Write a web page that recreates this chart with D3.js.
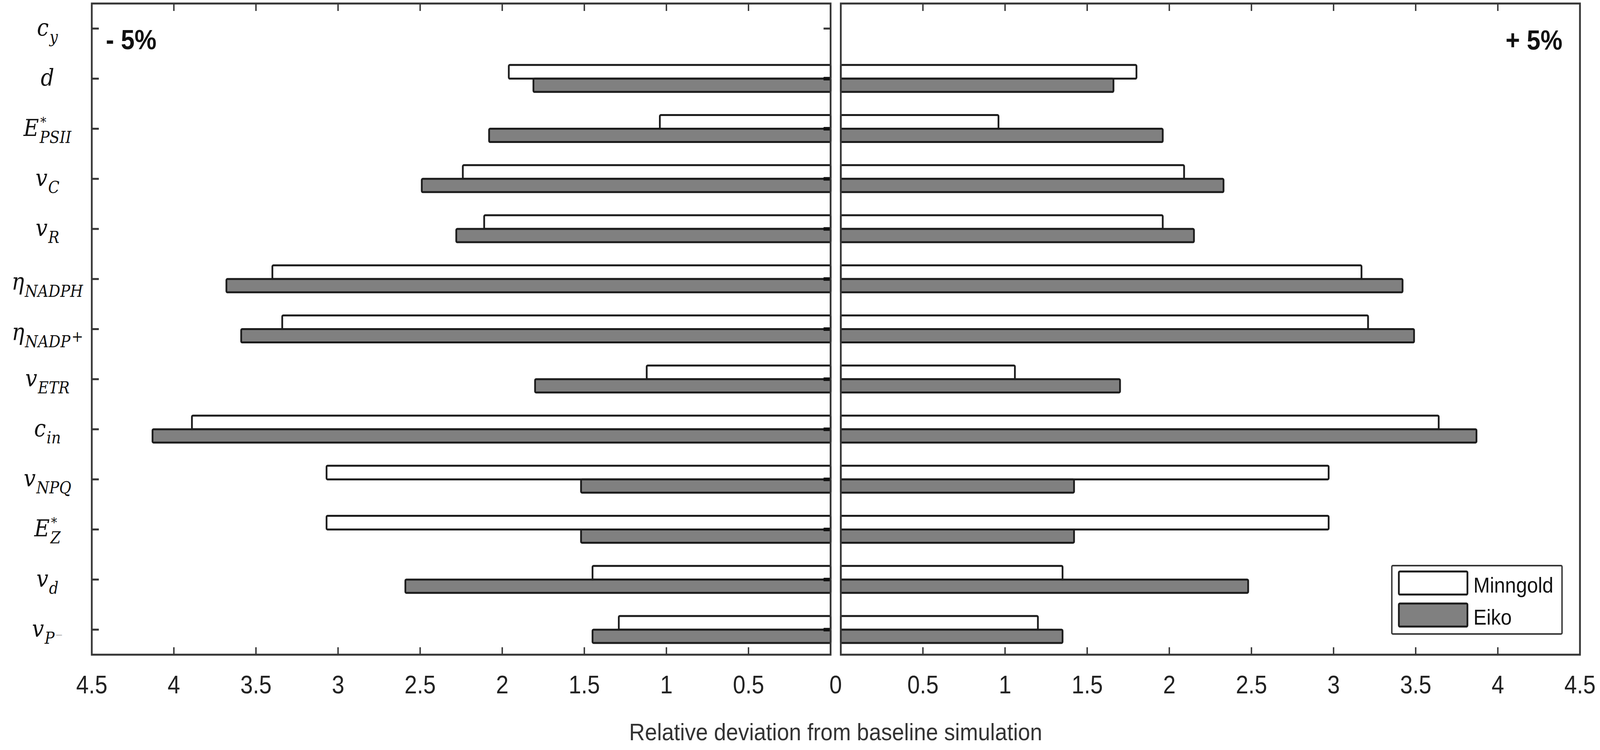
<!DOCTYPE html>
<html>
<head>
<meta charset="utf-8">
<script src="https://cdn.jsdelivr.net/npm/d3@7"></script>
<style>
html,body{margin:0;padding:0;background:#fff;overflow:hidden;width:100%;height:100%;}
svg{display:block;width:100vw;height:100vh;}
</style>
</head>
<body>
<svg id="chart" viewBox="0 0 4550 1920" preserveAspectRatio="none"></svg>
<script>
// ---------------- data ----------------
const categories = ["cy","d","EPSII","vC","vR","etaNADPH","etaNADP","vETR","cin","vNPQ","EZ","vd","vP"];
const labelMain = ["c","d","E","v","v","η","η","v","c","v","E","v","v"];
const labelSub  = ["y","","PSII","C","R","NADPH","NADP","ETR","in","NPQ","Z","d","P"];
const labelSup  = ["","","*","","","","+","","","","*","","−"];

const series = ["Minngold","Eiko"];
// -5% perturbation (left panel)
const minusMinngold = [0, 1.96, 1.04, 2.24, 2.11, 3.40, 3.34, 1.12, 3.89, 3.07, 3.07, 1.45, 1.29];
const minusEiko     = [0, 1.81, 2.08, 2.49, 2.28, 3.68, 3.59, 1.80, 4.13, 1.52, 1.52, 2.59, 1.45];
// +5% perturbation (right panel)
const plusMinngold  = [0, 1.80, 0.96, 2.09, 1.96, 3.17, 3.21, 1.06, 3.64, 2.97, 2.97, 1.35, 1.20];
const plusEiko      = [0, 1.66, 1.96, 2.33, 2.15, 3.42, 3.49, 1.70, 3.87, 1.42, 1.42, 2.48, 1.35];

const xTicks = [0, 0.5, 1, 1.5, 2, 2.5, 3, 3.5, 4, 4.5];
const xTitle = "Relative deviation from baseline simulation";
const panelLabels = ["- 5%", "+ 5%"];

// ---------------- layout ----------------
const svg = d3.select("#chart");
const plotTop = 9, plotBottom = 1676;
const xL = d3.scaleLinear().domain([4.5, 0]).range([261, 2362]);
const xR = d3.scaleLinear().domain([0, 4.5]).range([2391, 4493]);
const y = d3.scaleBand().domain(categories).range([plotTop, plotBottom]).padding(0);
const center = c => y(c) + y.bandwidth() / 2;

const fills = ["#ffffff", "#808080"];
const barStroke = "#1c1c1c";
const axisColor = "#363636";
const hUp = 35, hDown = 34;

function drawBars(g, xs, vals, idx) {
  g.selectAll(null).data(categories.map((c, i) => ({c, v: vals[i]})).filter(d => d.v > 0))
    .enter().append("rect")
    .attr("x", d => Math.min(xs(0), xs(d.v)))
    .attr("width", d => Math.abs(xs(d.v) - xs(0)))
    .attr("y", d => idx === 0 ? center(d.c) - hUp : center(d.c))
    .attr("height", idx === 0 ? hUp : hDown)
    .attr("rx", 3)
    .attr("fill", fills[idx])
    .attr("stroke", barStroke)
    .attr("stroke-width", 5);
}

const gL = svg.append("g");
const gR = svg.append("g");
drawBars(gL, xL, minusMinngold, 0);
drawBars(gL, xL, minusEiko, 1);
drawBars(gR, xR, plusMinngold, 0);
drawBars(gR, xR, plusEiko, 1);

// x ticks (top and bottom, inward)
function drawXTicks(g, xs) {
  const inner = xTicks.filter(t => t > 0 && t < 4.5);
  g.selectAll(null).data(inner).enter().append("line")
    .attr("x1", d => xs(d)).attr("x2", d => xs(d))
    .attr("y1", plotBottom).attr("y2", plotBottom - 19)
    .attr("stroke", axisColor).attr("stroke-width", 4);
  g.selectAll(null).data(inner).enter().append("line")
    .attr("x1", d => xs(d)).attr("x2", d => xs(d))
    .attr("y1", plotTop).attr("y2", plotTop + 19)
    .attr("stroke", axisColor).attr("stroke-width", 4);
}
drawXTicks(gL, xL);
drawXTicks(gR, xR);

// y ticks on left panel (both sides, inward)
gL.selectAll(null).data(categories).enter().append("line")
  .attr("x1", xL(4.5)).attr("x2", xL(4.5) + 20)
  .attr("y1", d => center(d)).attr("y2", d => center(d))
  .attr("stroke", axisColor).attr("stroke-width", 5);
gL.selectAll(null).data(categories.map((c, i) => ({c, has: minusMinngold[i] > 0 || minusEiko[i] > 0})))
  .enter().append("line")
  .attr("x1", xL(0)).attr("x2", xL(0) - 20)
  .attr("y1", d => center(d.c)).attr("y2", d => center(d.c))
  .attr("stroke", d => d.has ? "#111" : axisColor).attr("stroke-width", d => d.has ? 9 : 5);

// frames
[[xL(4.5), xL(0)], [xR(0), xR(4.5)]].forEach(([a, b]) => {
  svg.append("rect").attr("x", a).attr("y", plotTop).attr("width", b - a).attr("height", plotBottom - plotTop)
    .attr("fill", "none").attr("stroke", axisColor).attr("stroke-width", 5);
});

// x tick labels
const tickFont = "'Liberation Sans', Arial, sans-serif";
const labY = 1775;
function drawXLabels(xs) {
  svg.append("g").selectAll(null).data(xTicks.filter(t => t > 0)).enter().append("text")
    .attr("x", d => xs(d)).attr("y", labY)
    .attr("text-anchor", "middle")
    .attr("font-family", tickFont).attr("font-size", 64).attr("fill", "#222")
    .text(d => d3.format("~g")(d));
}
drawXLabels(xL);
drawXLabels(xR);
svg.append("text").attr("x", (xL(0) + xR(0)) / 2).attr("y", labY)
  .attr("text-anchor", "middle").attr("font-family", tickFont).attr("font-size", 64).attr("fill", "#222")
  .text("0");

// x title
svg.append("text").attr("x", (xL(0) + xR(0)) / 2).attr("y", 1895)
  .attr("text-anchor", "middle").attr("font-family", tickFont).attr("font-size", 62).attr("fill", "#333")
  .text(xTitle);

// panel labels
svg.append("text").attr("x", xL(4.5) + 40).attr("y", 126)
  .attr("font-family", tickFont).attr("font-weight", "bold").attr("font-size", 70).attr("fill", "#111")
  .text(panelLabels[0]);
svg.append("text").attr("x", xR(4.5) - 50).attr("y", 127).attr("text-anchor", "end")
  .attr("font-family", tickFont).attr("font-weight", "bold").attr("font-size", 70).attr("fill", "#111")
  .text(panelLabels[1]);

// y category labels (math style), one text element per label
const mathFont = "'DejaVu Serif', 'Liberation Serif', serif";
const mainSize = 60, subSize = 42;
categories.forEach((c, i) => {
  const probe = svg.append("text")
    .attr("font-family", mathFont).attr("font-style", "italic").attr("font-size", mainSize)
    .text(labelMain[i]);
  const w = probe.node().getComputedTextLength();
  probe.remove();

  const t = svg.append("text").attr("x", 0).attr("y", 0)
    .attr("font-family", mathFont).attr("font-style", "italic").attr("fill", "#111");
  t.append("tspan").attr("x", 0).attr("y", 0).attr("font-size", mainSize).text(labelMain[i]);
  if (labelSup[i] === "*") {
    t.append("tspan").attr("x", w + 4).attr("y", -24).attr("font-size", 34).attr("font-style", "normal").text("*");
  }
  if (labelSub[i]) {
    t.append("tspan").attr("x", w + 2).attr("y", 18).attr("font-size", subSize).text(labelSub[i]);
  }
  if (labelSup[i] === "+") {
    t.append("tspan").attr("dx", 3).attr("y", 4).attr("font-size", 40).attr("font-style", "normal").text("+");
  } else if (labelSup[i] === "−") {
    t.append("tspan").attr("dx", 2).attr("y", 4).attr("font-size", 26).attr("font-style", "normal")
      .attr("fill", "#aaa").text("−");
  }
  const bb = t.node().getBBox();
  const drop = labelMain[i] === "η" ? 28 : 18;
  t.attr("transform", `translate(${135 - (bb.x + bb.width / 2)},${center(c) + drop})`);
});

// legend
const lg = svg.append("g");
lg.append("rect").attr("x", 3958).attr("y", 1448).attr("width", 484).attr("height", 175)
  .attr("fill", "#fff").attr("stroke", axisColor).attr("stroke-width", 4).attr("rx", 3);
series.forEach((s, i) => {
  const yy = 1463 + i * 82;
  lg.append("rect").attr("x", 3978).attr("y", yy).attr("width", 195).attr("height", 59)
    .attr("rx", 3).attr("fill", fills[i]).attr("stroke", barStroke).attr("stroke-width", 5);
  lg.append("text").attr("x", 4190).attr("y", yy + 54)
    .attr("font-family", tickFont).attr("font-size", 56).attr("fill", "#111").text(s);
});
</script>
</body>
</html>
